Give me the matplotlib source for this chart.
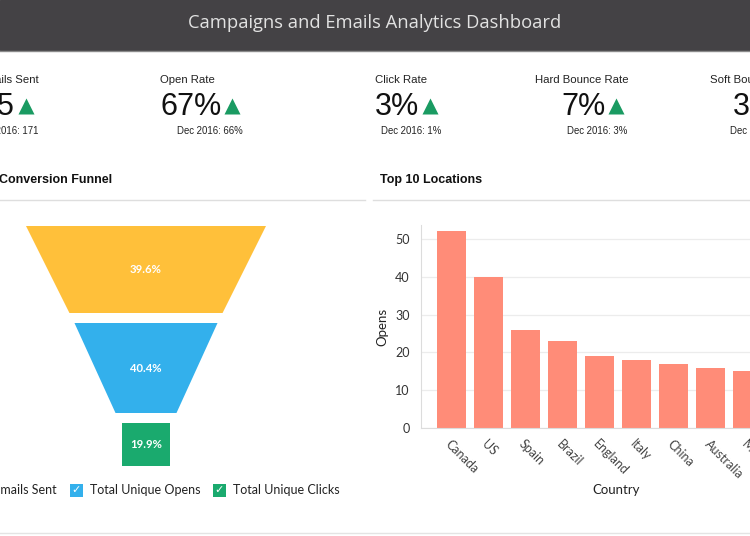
import matplotlib
matplotlib.use("Agg")
import matplotlib.pyplot as plt
from matplotlib.patches import Rectangle, Polygon
from matplotlib.lines import Line2D

# KPI row
kpi_names = ["Emails Sent", "Open Rate", "Click Rate", "Hard Bounce Rate", "Soft Bounce Rate"]
kpi_values = ["175", "67%", "3%", "7%", "3%"]
kpi_prev = ["Dec 2016: 171", "Dec 2016: 66%", "Dec 2016: 1%", "Dec 2016: 3%", "Dec 2016: 2%"]

# funnel
funnel_names = ["Total Emails Sent", "Total Unique Opens", "Total Unique Clicks"]
funnel_pct = [39.6, 40.4, 19.9]
funnel_top_w = [1.0, 0.596, 0.196]
funnel_bot_w = [0.638, 0.254, 0.196]
funnel_h = [0.87, 0.90, 0.43]
funnel_colors = ["#ffc03a", "#33b0ec", "#1aaa6e"]

# top 10 locations
countries = ["Canada", "US", "Spain", "Brazil", "England", "Italy", "China", "Australia", "Mexico", "India"]
opens = [52, 40, 26, 23, 19, 18, 17, 16, 15, 14]

W, H = 750, 536
fig = plt.figure(figsize=(7.5, 5.36), dpi=100)
fig.patch.set_facecolor("white")


def fx(x):
    return x / W


def fy(y):
    return 1 - y / H


# header bar
fig.add_artist(Rectangle((0, fy(50)), 1, 50 / H, transform=fig.transFigure,
                         color="#444245", zorder=0))
fig.add_artist(Line2D([0, 1], [fy(50.5)] * 2, transform=fig.transFigure, color="#8a8a8a", lw=1))
fig.text(0.5, fy(23), "Campaigns and Emails Analytics Dashboard", ha="center", va="center",
         fontsize=13.2, color="#e2e2e2", family="Open Sans")

# KPI blocks (label x, value x, prev right x) in pixels
kpi_pos = [(-22, -36, 38), (160, 160, 243), (375, 375, 441), (535, 561, 627), (710, 733, 790)]
renderer = fig.canvas.get_renderer()
for name, val, prev, (lx, vx, px) in zip(kpi_names, kpi_values, kpi_prev, kpi_pos):
    fig.text(fx(lx), fy(83), name, ha="left", va="baseline", fontsize=8.2,
             color="#222", family="Liberation Sans")
    t = fig.text(fx(vx), fy(115), val, ha="left", va="baseline", fontsize=22,
                 color="#111", family="Liberation Sans")
    bb = t.get_window_extent(renderer)
    fig.add_artist(Line2D([fx(bb.x1 + 11)], [fy(106)], transform=fig.transFigure,
                          marker="^", ms=11, color="#1a9b62", mec="none", ls="none"))
    fig.text(fx(px), fy(134), prev, ha="right", va="baseline", fontsize=6.9,
             color="#222", family="Liberation Sans")

# section titles and divider lines
fig.text(fx(-1), fy(180), "Conversion Funnel", ha="left", va="center", fontsize=9,
         fontweight="bold", color="#111", family="Liberation Sans")
fig.text(fx(380), fy(180), "Top 10 Locations", ha="left", va="center", fontsize=9,
         fontweight="bold", color="#111", family="Liberation Sans")
fig.add_artist(Line2D([0, fx(365)], [fy(200)] * 2, transform=fig.transFigure, color="#dedede", lw=1))
fig.add_artist(Line2D([fx(373), 1], [fy(200)] * 2, transform=fig.transFigure, color="#dedede", lw=1))
fig.add_artist(Line2D([0, 1], [fy(533)] * 2, transform=fig.transFigure, color="#e4e4e4", lw=1))

# funnel (units: 1.0 = 240 px wide, 100 px tall)
axf = fig.add_axes([0, fy(480), fx(370), 270 / H])
axf.set_xlim(-146 / 240, 224 / 240)
axf.set_ylim(2.7, 0)
axf.axis("off")
y0 = 0.16
for pct, tw, bw, h, c in zip(funnel_pct, funnel_top_w, funnel_bot_w, funnel_h, funnel_colors):
    poly = Polygon([(-tw / 2, y0), (tw / 2, y0), (bw / 2, y0 + h), (-bw / 2, y0 + h)],
                   closed=True, color=c, lw=0)
    axf.add_patch(poly)
    axf.text(0, y0 + h / 2, f"{pct}%", ha="center", va="center", color="white",
             fontsize=8.2, fontweight="bold", family="Lato")
    y0 += h + 0.10

# legend with check boxes
leg_x = [-58, 70, 213]
for name, c, lx in zip(funnel_names, funnel_colors, leg_x):
    fig.add_artist(Rectangle((fx(lx), fy(497)), 13 / W, 13 / H, transform=fig.transFigure,
                             color=c, lw=0))
    fig.text(fx(lx + 6.5), fy(490.5), "\u2713", ha="center", va="center", color="white",
             fontsize=8, fontweight="bold", family="DejaVu Sans")
    fig.text(fx(lx + 20), fy(490.5), name, ha="left", va="center", fontsize=9,
             color="#222", family="Lato")

# bar chart
ax = fig.add_axes([fx(421), fy(428), 394 / W, 203 / H])
xs = range(len(countries))
ax.bar(xs, opens, width=0.78, color="#ff8c78", zorder=2)
ax.set_xlim(-0.82, 9.82)
ax.set_ylim(0, 203 / 3.78)
ax.set_yticks([0, 10, 20, 30, 40, 50])
ax.set_xticks(list(xs))
ax.set_xticklabels(countries, rotation=-45, ha="left", va="top", rotation_mode="anchor",
                   fontsize=9, color="#444", family="Lato")
for lab in ax.get_yticklabels():
    lab.set_family("Lato")
ax.tick_params(axis="y", length=0, pad=8, labelsize=9, labelcolor="#333")
ax.tick_params(axis="x", length=0, pad=7)
ax.grid(axis="y", color="#ececec", lw=0.9, zorder=0)
ax.set_axisbelow(True)
for s in ["top", "right"]:
    ax.spines[s].set_visible(False)
for s in ["left", "bottom"]:
    ax.spines[s].set_color("#dcdcdc")
ax.set_ylabel("Opens", fontsize=9.5, color="#222", family="Lato")
ax.yaxis.set_label_coords(-0.082, 0.5)
ax.set_xlabel("Country", fontsize=9.5, color="#222", family="Lato")
ax.xaxis.set_label_coords((616 - 421) / 394, -0.275)

fig.savefig("out.png", dpi=100)
